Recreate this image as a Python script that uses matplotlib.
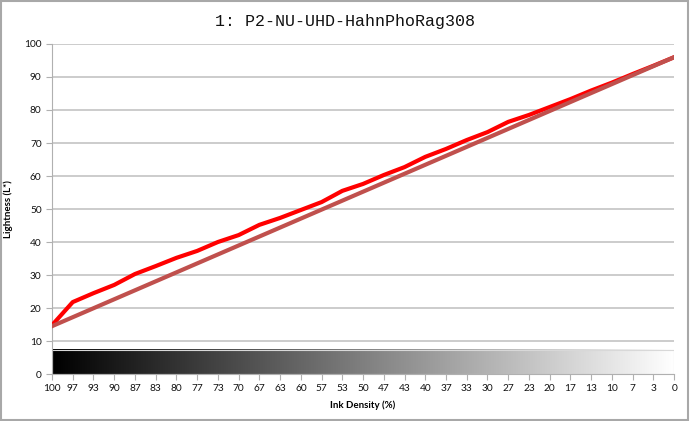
import numpy as np
import matplotlib
matplotlib.use("Agg")
from matplotlib import pyplot as plt
from matplotlib.patches import Rectangle

# ink density ticks (percent), plotted reversed 100 -> 0
density = np.linspace(100, 0, 31)
tick_labels = ["100", "97", "93", "90", "87", "83", "80", "77", "73", "70",
               "67", "63", "60", "57", "53", "50", "47", "43", "40", "37",
               "33", "30", "27", "23", "20", "17", "13", "10", "7", "3", "0"]

# measured lightness
measured = [14.8, 21.8, 24.5, 27.0, 30.3, 32.7, 35.2, 37.3, 40.0, 42.1,
            45.2, 47.3, 49.7, 52.1, 55.5, 57.6, 60.3, 62.7, 65.8, 68.2,
            70.9, 73.3, 76.4, 78.5, 80.9, 83.3, 85.9, 88.3, 90.9, 93.4, 96.0]

# ideal linear target (end points)
target_x = [100, 0]
target_y = [14.5, 96.0]

fig = plt.figure(figsize=(6.9, 4.21), dpi=100)
ax = fig.add_axes([0.0754, 0.1116, 0.9016, 0.7839])

ax.set_xlim(100, 0)
ax.set_ylim(0, 100)

# gradient strip black -> white
grad = np.linspace(0, 1, 256).reshape(1, -1)
ax.imshow(grad, cmap="gray", aspect="auto", extent=[100, 0, 0, 7.3],
          vmin=0, vmax=1, zorder=1)
ax.add_patch(Rectangle((0, 0), 100, 7.3, fill=False, edgecolor="#d8d8d8",
                       lw=0.8, zorder=1.5))

ax.plot(density, measured, color="#ff0000", lw=3.0, zorder=3,
        solid_joinstyle="round")
ax.plot(target_x, target_y, color="#c0504d", lw=3.0, zorder=4)

ax.set_yticks(np.arange(0, 101, 10))
ax.set_xticks(density)
ax.set_xticklabels(tick_labels)
ax.grid(axis="y", color="#c4c4c4", lw=1.2, zorder=0)
ax.set_axisbelow(True)

for s in ["top", "right"]:
    ax.spines[s].set_visible(False)
ax.spines["left"].set_color("#b0b0b0")
ax.spines["bottom"].set_color("#b0b0b0")
ax.tick_params(axis="both", colors="#b0b0b0", labelcolor="#111111",
               labelsize=7.3, length=4, width=0.8)
for lab in ax.get_xticklabels() + ax.get_yticklabels():
    lab.set_family("Lato")

ax.set_xlabel("Ink Density (%)", fontsize=7, fontweight="bold",
              family="Lato", labelpad=5)
ax.set_ylabel("Lightness (L*)", fontsize=7, fontweight="bold",
              family="Lato", labelpad=8)

fig.text(0.5, 0.948, "1: P2-NU-UHD-HahnPhoRag308", ha="center", va="center",
         fontsize=12, family="Liberation Mono", color="#111111")

fig.patches.append(Rectangle((0.002, 0.003), 0.995, 0.994,
                             transform=fig.transFigure, fill=False,
                             edgecolor="#a8a8a8", lw=1.5))

fig.savefig("out.png", dpi=100)
